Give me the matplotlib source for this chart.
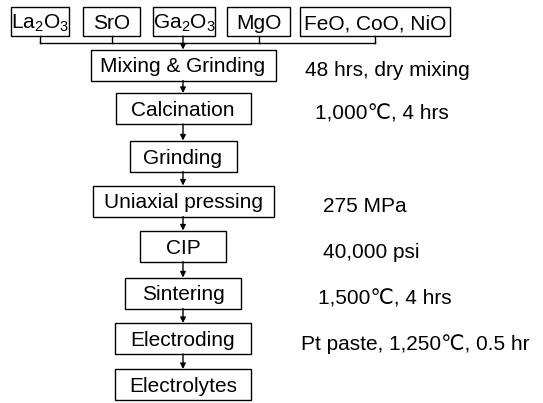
import matplotlib
matplotlib.use('Agg')
import matplotlib.pyplot as plt
from matplotlib.patches import Rectangle

plt.rcParams['font.family'] = ['Liberation Sans', 'DejaVu Sans']
plt.rcParams['mathtext.fontset'] = 'custom'
plt.rcParams['mathtext.rm'] = 'Liberation Sans'
plt.rcParams['mathtext.it'] = 'Liberation Sans:italic'
plt.rcParams['mathtext.default'] = 'rm'

# raw materials (top row)
materials = ['La$_2$O$_3$', 'SrO', 'Ga$_2$O$_3$', 'MgO', 'FeO, CoO, NiO']
# process steps
steps = ['Mixing & Grinding', 'Calcination', 'Grinding', 'Uniaxial pressing',
         'CIP', 'Sintering', 'Electroding', 'Electrolytes']
# process conditions next to each step (None = no note)
conditions = ['48 hrs, dry mixing', '1,000\u2103, 4 hrs', None, '275 MPa',
              '40,000 psi', '1,500\u2103, 4 hrs', 'Pt paste, 1,250\u2103, 0.5 hr', None]

# layout (pixel coords, y downward)
mat_x = [40, 111.5, 184, 258.5, 375]
mat_w = [58, 57, 62, 63, 150]
mat_y, mat_h = 21.5, 29
bus_y = 43
col_x = 183
step_y = [65, 108.5, 156, 201, 246, 293, 338.5, 384.5]
step_w = [185, 135, 107, 181, 86, 116, 136, 136]
step_h = 31
note_x = [305, 315, None, 323, 323, 318, 301, None]
note_base = 11.5   # baseline offset of notes below box centre
box_base = 7.5     # baseline offset of box labels below box centre
fs = 15
lw = 1.0

fig = plt.figure(figsize=(5.43, 4.03), dpi=100)
ax = fig.add_axes([0, 0, 1, 1])
ax.set_xlim(0, 543)
ax.set_ylim(403, 0)
ax.axis('off')


def box(x, y, w, h, label):
    ax.add_patch(Rectangle((x - w / 2, y - h / 2), w, h, fill=False,
                           ec='black', lw=lw))
    ax.text(x, y + box_base, label, ha='center', va='baseline', fontsize=fs)


def arrow(x, y0, y1):
    ax.annotate('', xy=(x, y1), xytext=(x, y0),
                arrowprops=dict(arrowstyle='-|>', lw=lw, color='black',
                                mutation_scale=8, shrinkA=0, shrinkB=0))


# top row of raw materials joined by a bus line
for x, w, m in zip(mat_x, mat_w, materials):
    box(x, mat_y, w, mat_h, m)
    if abs(x - col_x) > 3:
        ax.plot([x, x], [mat_y + mat_h / 2, bus_y], color='black', lw=lw)
ax.plot([mat_x[0], mat_x[-1]], [bus_y, bus_y], color='black', lw=lw)
arrow(col_x, mat_y + mat_h / 2, step_y[0] - step_h / 2)

# process steps
for i, (s, y, w) in enumerate(zip(steps, step_y, step_w)):
    box(col_x, y, w, step_h, s)
    if i + 1 < len(steps):
        arrow(col_x, y + step_h / 2, step_y[i + 1] - step_h / 2)
    if conditions[i] is not None:
        ax.text(note_x[i], y + note_base, conditions[i], ha='left',
                va='baseline', fontsize=fs)

fig.savefig('out.png', dpi=100)
